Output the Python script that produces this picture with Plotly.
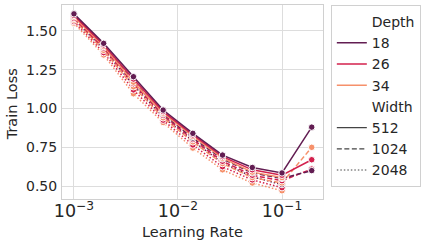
import plotly.graph_objects as go

learning_rates = [0.001, 0.00193, 0.00373, 0.0072, 0.0139, 0.0268, 0.0518, 0.1, 0.193]
depths = ["18", "26", "34"]
widths = ["512", "1024", "2048"]

loss_18_512 = [1.61, 1.42, 1.205, 0.99, 0.84, 0.70, 0.62, 0.585, 0.88]
loss_26_512 = [1.60, 1.41, 1.19, 0.98, 0.83, 0.69, 0.605, 0.57, 0.67]
loss_34_512 = [1.59, 1.40, 1.17, 0.97, 0.82, 0.68, 0.59, 0.555, None]
loss_18_1024 = [1.595, 1.40, 1.175, 0.965, 0.81, 0.675, 0.585, 0.55, 0.60]
loss_26_1024 = [1.58, 1.39, 1.16, 0.955, 0.80, 0.66, 0.57, 0.535, 0.61]
loss_34_1024 = [1.57, 1.375, 1.14, 0.94, 0.785, 0.645, 0.555, 0.52, 0.75]
loss_18_2048 = [1.575, 1.38, 1.15, 0.945, 0.79, 0.65, 0.56, 0.51, None]
loss_26_2048 = [1.56, 1.36, 1.12, 0.925, 0.765, 0.625, 0.54, 0.49, None]
loss_34_2048 = [1.55, 1.345, 1.095, 0.91, 0.745, 0.605, 0.52, 0.47, None]

series = {
    ("18", "512"): loss_18_512, ("26", "512"): loss_26_512, ("34", "512"): loss_34_512,
    ("18", "1024"): loss_18_1024, ("26", "1024"): loss_26_1024, ("34", "1024"): loss_34_1024,
    ("18", "2048"): loss_18_2048, ("26", "2048"): loss_26_2048, ("34", "2048"): loss_34_2048,
}

depth_colors = {"18": "#621d52", "26": "#d3204d", "34": "#f6906a"}
width_dash = {"512": "solid", "1024": "5px,2.5px", "2048": "1.5px,2px"}

FONT = "DejaVu Sans"
TXT = "#262626"
fig = go.Figure()

for w in reversed(widths):
    for d in reversed(depths):
        fig.add_trace(go.Scatter(
            x=learning_rates, y=series[(d, w)], mode="lines+markers",
            line=dict(color=depth_colors[d], width=1.5, dash=width_dash[w]),
            marker=dict(size=6.5, color=depth_colors[d], line=dict(color="white", width=1)),
            showlegend=False, connectgaps=False,
        ))

def legend_entry(name, color, dash="solid", width=1.5):
    fig.add_trace(go.Scatter(
        x=[None], y=[None], mode="lines", name=name,
        line=dict(color=color, width=width, dash=dash),
    ))

legend_entry("Depth", "rgba(0,0,0,0)")
for d in depths:
    legend_entry(d, depth_colors[d])
legend_entry("Width", "rgba(0,0,0,0)")
for w in widths:
    legend_entry(w, "#444444", width_dash[w], 1.2)

axis_common = dict(
    showgrid=True, gridcolor="#dddddd", gridwidth=1,
    showline=True, linecolor="#d0d0d0", linewidth=1, mirror=True,
    zeroline=False, ticks="", automargin=False,
    tickfont=dict(size=14, color=TXT, family=FONT),
)

fig.update_layout(
    width=432, height=245,
    margin=dict(l=62, r=109, t=5, b=46, autoexpand=False),
    paper_bgcolor="white", plot_bgcolor="white",
    font=dict(family=FONT, size=14, color=TXT),
    xaxis=dict(type="log", range=[-3.115, -0.606], dtick=1, exponentformat="power",
               ticklabelstandoff=-3, **axis_common),
    yaxis=dict(range=[0.417, 1.667], tickvals=[0.5, 0.75, 1.0, 1.25, 1.5],
               ticktext=["0.50", "0.75", "1.00", "1.25", "1.50"],
               ticklabelstandoff=1, **axis_common),
    legend=dict(x=1.03, y=1.0, xanchor="left", yanchor="top",
                bordercolor="#d0d0d0", borderwidth=1, bgcolor="white",
                font=dict(size=14, family=FONT, color=TXT), itemwidth=30, tracegroupgap=0),
    annotations=[
        dict(text="Learning Rate", xref="paper", yref="paper", x=0.5, y=-0.169,
             xanchor="center", yanchor="middle", showarrow=False,
             font=dict(size=14.5, family=FONT, color=TXT)),
        dict(text="Train Loss", xref="paper", yref="paper", x=-0.19, y=0.49,
             xanchor="center", yanchor="middle", showarrow=False, textangle=-90,
             font=dict(size=14.5, family=FONT, color=TXT)),
    ],
)

fig.write_html("out.html", config={"displayModeBar": False},
               post_script="document.body.style.margin='0';document.body.style.padding='0';")
